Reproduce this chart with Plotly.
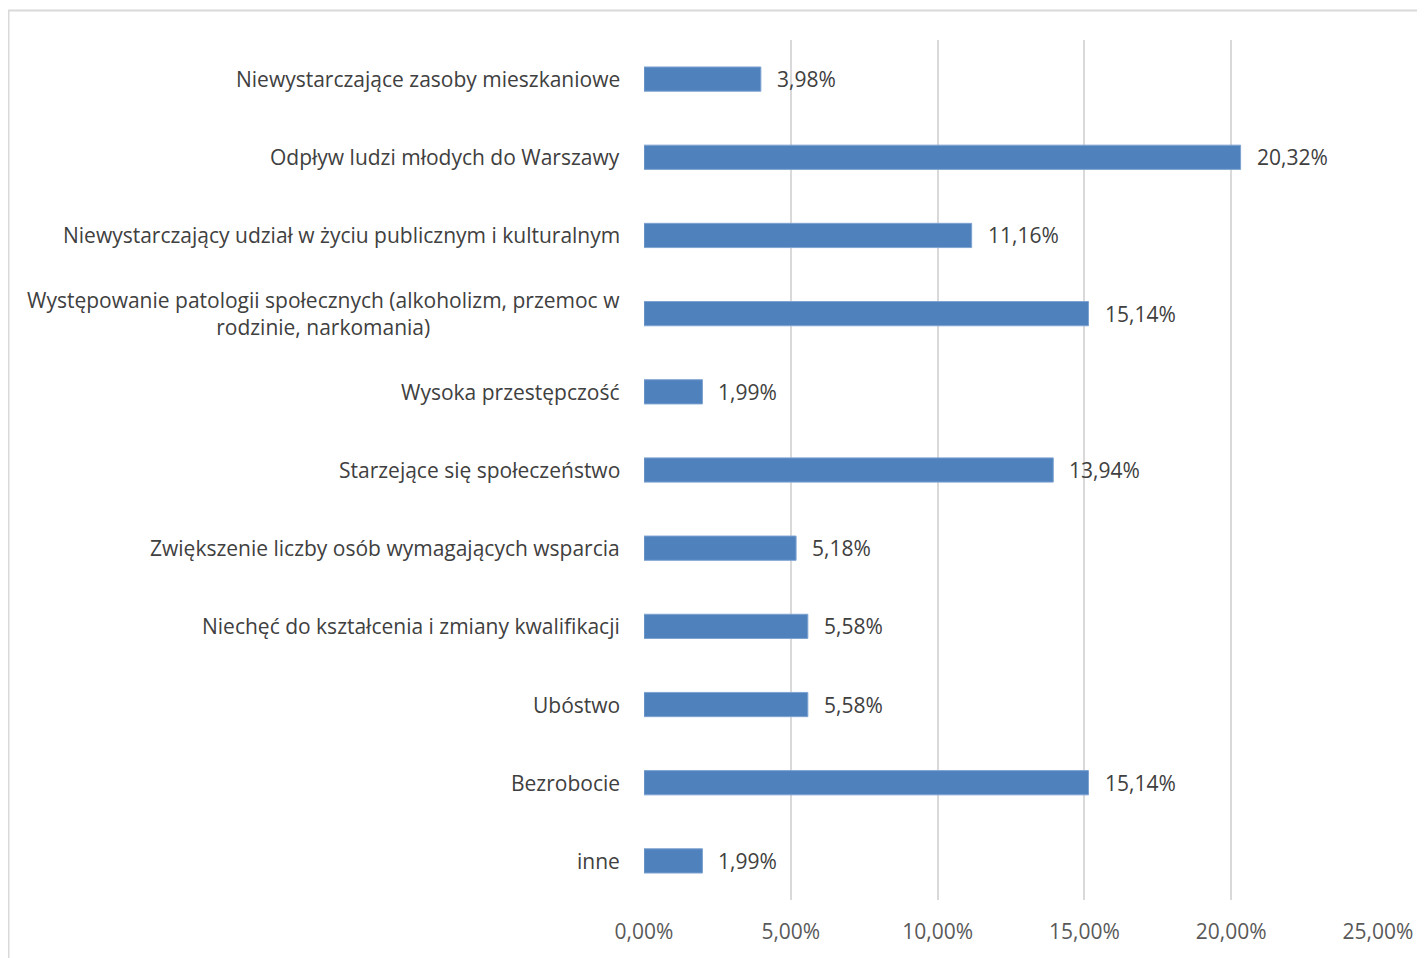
import plotly.graph_objects as go

categories = [
    "Niewystarczające zasoby mieszkaniowe",
    "Odpływ ludzi młodych do Warszawy",
    "Niewystarczający udział w życiu publicznym i kulturalnym",
    "Występowanie patologii społecznych (alkoholizm, przemoc w<br>rodzinie, narkomania)",
    "Wysoka przestępczość",
    "Starzejące się społeczeństwo",
    "Zwiększenie liczby osób wymagających wsparcia",
    "Niechęć do kształcenia i zmiany kwalifikacji",
    "Ubóstwo",
    "Bezrobocie",
    "inne",
]
values = [3.98, 20.32, 11.16, 15.14, 1.99, 13.94, 5.18, 5.58, 5.58, 15.14, 1.99]
tick_vals = [0, 5, 10, 15, 20, 25]
tick_text = ["0,00%", "5,00%", "10,00%", "15,00%", "20,00%", "25,00%"]

FONT = "Open Sans"
FS = 21
# page has an 8px body margin; figure coordinates are offset accordingly
W, H = 1417, 950
L, R, T, B = 636, 47, 32, 58

fig = go.Figure()
fig.add_trace(go.Bar(
    y=categories, x=values, orientation="h",
    marker=dict(color="#4f81bd", line=dict(color="#7ea3d1", width=1)),
    width=0.31, hoverinfo="skip",
))

ann = []
for c, v in zip(categories, values):
    ann.append(dict(x=0, y=c, xref="x", yref="y", text=c, showarrow=False,
                    xanchor="right", yanchor="middle", align="center", xshift=-22,
                    font=dict(family=FONT, size=FS, color="#404040")))
    ann.append(dict(x=v, y=c, xref="x", yref="y",
                    text=("%.2f%%" % v).replace(".", ","), showarrow=False,
                    xanchor="left", yanchor="middle", xshift=14,
                    font=dict(family=FONT, size=FS, color="#404040")))

pw, ph = W - L - R, H - T - B
def px(xp):
    return (xp - L) / pw
def py(yp):
    return (H - B - yp) / ph

shapes = [
    dict(type="line", xref="paper", yref="paper", x0=px(0), x1=px(1430), y0=py(2.5), y1=py(2.5),
         line=dict(color="#d9d9d9", width=2)),
    dict(type="line", xref="paper", yref="paper", x0=px(0.5), x1=px(0.5), y0=py(2.5), y1=py(965),
         line=dict(color="#d9d9d9", width=2)),
]

fig.update_layout(
    width=W, height=H,
    margin=dict(l=L, r=R, t=T, b=B, pad=0),
    paper_bgcolor="white", plot_bgcolor="white",
    showlegend=False,
    annotations=ann, shapes=shapes,
    xaxis=dict(range=[0, 25], tickvals=tick_vals, ticktext=tick_text,
               showgrid=True, gridcolor="#d9d9d9", gridwidth=2,
               zeroline=False, showline=False, ticks="",
               tickfont=dict(family=FONT, size=FS, color="#595959"),
               ticklabelstandoff=17, fixedrange=True),
    yaxis=dict(autorange="reversed", showticklabels=False, ticks="",
               showgrid=False, zeroline=False, showline=False, fixedrange=True),
    bargap=0.69,
)

fig.write_html("out.html")
